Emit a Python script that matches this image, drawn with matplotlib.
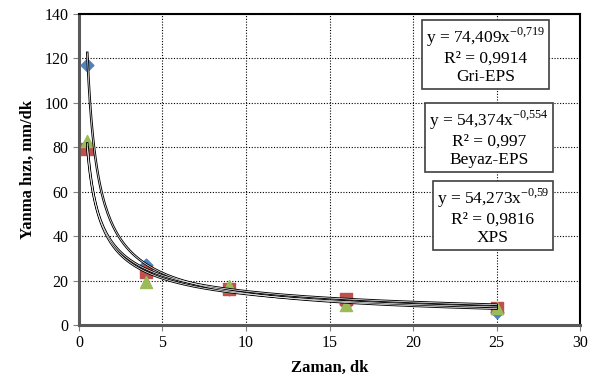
import matplotlib.pyplot as plt
import numpy as np

plt.rcParams['font.family'] = ['Liberation Serif', 'DejaVu Serif']
plt.rcParams['mathtext.fontset'] = 'custom'
plt.rcParams['mathtext.rm'] = 'Liberation Serif'

# Zaman (dk) and measured burning rates
zaman = [0.5, 4, 9, 16, 25]
gri_eps = [117, 27, 16, 9.5, 6]
beyaz_eps = [79, 24, 16, 11.7, 7.8]
xps = [83, 19.5, 17.5, 9.2, 7.5]

# power trendlines y = a * x^b
fits = {
    'Gri-EPS': (74.409, -0.719, '0,9914'),
    'Beyaz-EPS': (54.374, -0.554, '0,997'),
    'XPS': (54.273, -0.59, '0,9816'),
}
fit_labels = {'Gri-EPS': ('74,409', '-0,719'), 'Beyaz-EPS': ('54,374', '-0,554'),
              'XPS': ('54,273', '-0,59')}

fig = plt.figure(figsize=(5.89, 3.86), dpi=100)
ax = fig.add_axes([0.134, 0.158, 0.851, 0.806])

ax.set_xlim(0, 30)
ax.set_ylim(0, 140)
ax.set_xticks(range(0, 31, 5))
ax.set_yticks(range(0, 141, 20))
ax.grid(True, color='black', linestyle=(0, (1, 1.5)), linewidth=0.8)
ax.set_axisbelow(True)

ax.scatter(zaman, gri_eps, marker='D', s=42, color='#4F81BD', zorder=3)
ax.scatter(zaman, beyaz_eps, marker='s', s=70, color='#C0504D', zorder=3)
ax.scatter(zaman, xps, marker='^', s=75, color='#9BBB59', zorder=3)

xs = np.linspace(0.5, 25, 300)
for name, (a, b, r2) in fits.items():
    ys = a * xs ** b
    ax.plot(xs, ys, color='black', linewidth=1.8, zorder=4)
    ax.plot(xs, ys, color='white', linewidth=0.5, zorder=5)

# equation boxes
box_pos = [(0.930, 0.961), (0.938, 0.695), (0.938, 0.444)]
for (name, (a, b, r2)), (bx, by) in zip(fits.items(), box_pos):
    aa, bb = fit_labels[name]
    txt = ('y = ' + aa + 'x$^{\\mathrm{' + bb.replace(',', '{,}') + '}}$\n'
           'R² = ' + r2 + '\n' + name)
    ax.text(bx, by, txt, transform=ax.transAxes, ha='right', va='top',
            fontsize=12.5, multialignment='center', linespacing=1.15,
            bbox=dict(boxstyle='square,pad=0.22', facecolor='white',
                      edgecolor='#404040', linewidth=1.2), zorder=6)

for s in ['left', 'bottom']:
    ax.spines[s].set_color('#595959')
    ax.spines[s].set_linewidth(2.2)
for s in ['top', 'right']:
    ax.spines[s].set_color('black')
    ax.spines[s].set_linewidth(1.5)
ax.tick_params(direction='out', length=4, color='#808080', labelsize=11.5)

ax.set_xlabel('Zaman, dk', fontsize=12, fontweight='bold', labelpad=6)
ax.set_ylabel('Yanma hızı, mm/dk', fontsize=12, fontweight='bold', labelpad=6)

plt.savefig('out.png', dpi=100)
